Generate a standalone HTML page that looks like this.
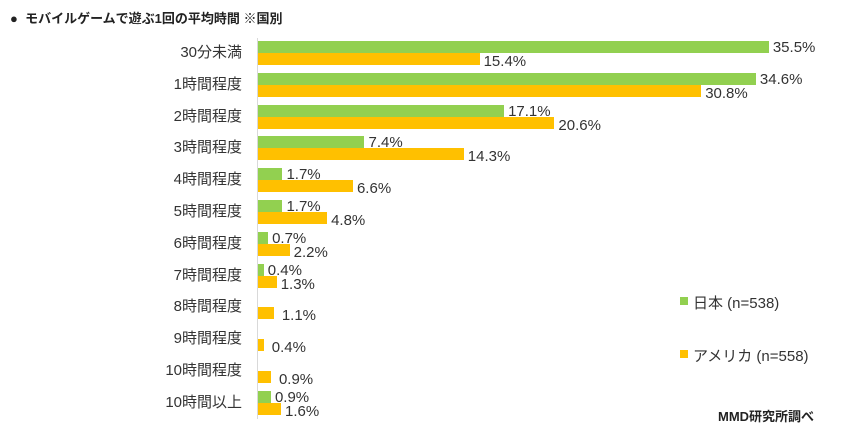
<!DOCTYPE html>
<html><head><meta charset="utf-8"><style>
body{margin:0;background:#fff;width:842px;height:432px;overflow:hidden;position:relative;font-family:"Liberation Sans","Noto Sans CJK JP",sans-serif;color:#333}
.a{position:absolute;white-space:nowrap}
.cat{position:absolute;right:600px;font-size:15px;color:#333;line-height:16px}
.g{position:absolute;left:258px;height:12px;background:#92d050}
.o{position:absolute;left:258px;height:12px;background:#ffc000}
.v{position:absolute;font-size:15px;line-height:15px;color:#333}
</style></head><body>
<div class="a" style="left:10px;top:8px;font-size:13px;font-weight:bold;color:#222">●&nbsp;&nbsp;モバイルゲームで遊ぶ1回の平均時間 ※国別</div>
<div class="a" style="left:257px;top:38px;width:1px;height:381px;background:#d9d9d9"></div>
<div id="c"></div>
<div class="a" style="left:680px;top:297px;width:8px;height:8px;background:#92d050"></div>
<div class="a" style="left:693px;top:292px;font-size:15px">日本 (n=538)</div>
<div class="a" style="left:680px;top:350px;width:8px;height:8px;background:#ffc000"></div>
<div class="a" style="left:693px;top:345px;font-size:15px">アメリカ (n=558)</div>
<div class="a" style="left:718px;top:406px;font-size:13px;font-weight:bold;color:#222">MMD研究所調べ</div>
<script>
var cats=["30分未満","1時間程度","2時間程度","3時間程度","4時間程度","5時間程度","6時間程度","7時間程度","8時間程度","9時間程度","10時間程度","10時間以上"];
var g=[35.5,34.6,17.1,7.4,1.7,1.7,0.7,0.4,0,0,0,0.9];
var o=[15.4,30.8,20.6,14.3,6.6,4.8,2.2,1.3,1.1,0.4,0.9,1.6];
var s=14.39,h="";
for(var i=0;i<12;i++){var t=41+31.8*i;
h+='<div class="cat" style="top:'+(t+4)+'px">'+cats[i]+'</div>';
if(g[i]>0){var w=g[i]*s;h+='<div class="g" style="top:'+t+'px;width:'+w+'px"></div><div class="v" style="left:'+(262+w)+'px;top:'+(t-1)+'px">'+g[i].toFixed(1)+'%</div>';}
var w2=o[i]*s;h+='<div class="o" style="top:'+(t+12)+'px;width:'+w2+'px"></div><div class="v" style="left:'+(262+w2+(g[i]>0?0:4))+'px;top:'+(t+13)+'px">'+o[i].toFixed(1)+'%</div>';}
document.getElementById('c').innerHTML=h;
</script>
</body></html>
